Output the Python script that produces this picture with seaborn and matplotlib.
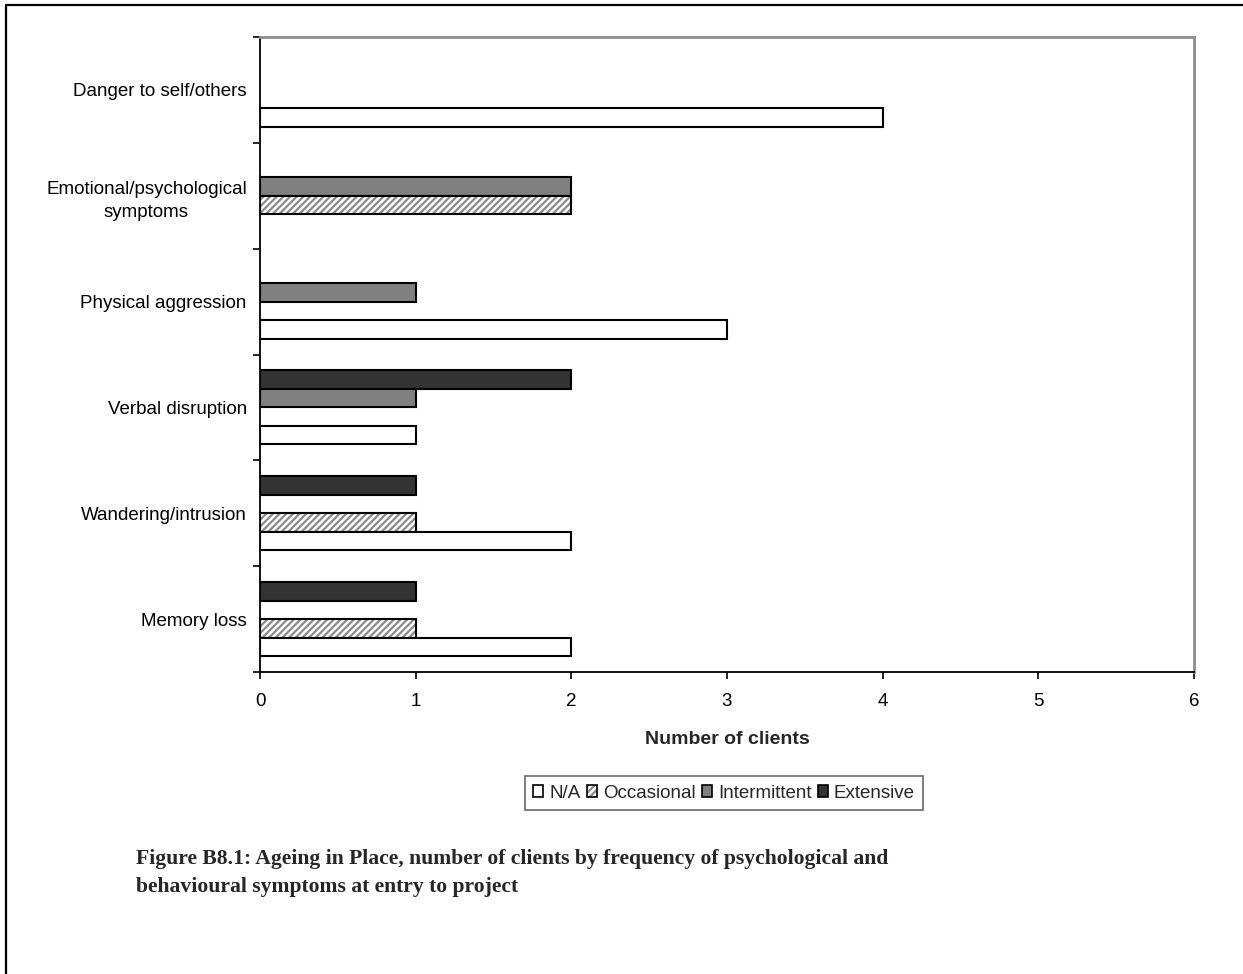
import matplotlib
matplotlib.use("Agg")
import matplotlib.pyplot as plt
from matplotlib.lines import Line2D
from matplotlib.patches import Patch
from matplotlib.colors import to_rgba
import seaborn as sns
import pandas as pd

# Symptom categories, listed top to bottom as they appear on the axis
categories = [
    "Danger to self/others",
    "Emotional/psychological\nsymptoms",
    "Physical aggression",
    "Verbal disruption",
    "Wandering/intrusion",
    "Memory loss",
]
levels = ["N/A", "Occasional", "Intermittent", "Extensive"]

# Number of clients per frequency level, one value per category
na_counts = [4, 0, 3, 1, 2, 2]
occasional_counts = [0, 2, 0, 0, 1, 1]
intermittent_counts = [0, 2, 1, 1, 0, 0]
extensive_counts = [0, 0, 0, 2, 1, 1]

x_ticks = [0, 1, 2, 3, 4, 5, 6]
x_label = "Number of clients"
caption = ("Figure B8.1: Ageing in Place, number of clients by frequency of psychological and\n"
           "behavioural symptoms at entry to project")

counts = {
    "N/A": na_counts,
    "Occasional": occasional_counts,
    "Intermittent": intermittent_counts,
    "Extensive": extensive_counts,
}
rows = []
for lvl in levels:
    for cat, v in zip(categories, counts[lvl]):
        if v > 0:
            rows.append({"symptom": cat, "frequency": lvl, "clients": v})
df = pd.DataFrame(rows)

OCC_FACE = "#fdfdfd"
colors = {"N/A": "#ffffff", "Occasional": OCC_FACE,
          "Intermittent": "#808080", "Extensive": "#333333"}

sns.set_style("white")
plt.rcParams["font.family"] = ["Liberation Sans", "DejaVu Sans"]
plt.rcParams["hatch.linewidth"] = 1.6

W, H = 1243, 974
fig = plt.figure(figsize=(W / 100, H / 100), dpi=100)
ax = fig.add_axes([260 / W, 1 - 672 / H, (1194 - 260) / W, (672 - 37) / H])

# hue order runs top to bottom inside each group, so N/A sits lowest
draw_order = ["Extensive", "Intermittent", "Occasional", "N/A"]
sns.barplot(data=df, y="symptom", x="clients", hue="frequency",
            order=categories, hue_order=draw_order, palette=colors,
            orient="h", width=0.7, saturation=1, errorbar=None,
            edgecolor="black", linewidth=1.5, legend=False, ax=ax)

hatch_grey = to_rgba("#8a8a8a")
for p in ax.patches:
    if to_rgba(p.get_facecolor()) == to_rgba(OCC_FACE):
        p.set_facecolor("white")
        p.set_hatch("/////")
        p._hatch_color = hatch_grey

ax.set_xlim(0, 6)
ax.set_ylim(len(categories) - 0.5, -0.5)
ax.set_xticks(x_ticks)
ax.set_xticklabels([str(t) for t in x_ticks])
ax.set_yticks(range(len(categories)))
ax.set_yticklabels(categories, multialignment="center", linespacing=1.5)
ax.set_yticks([i - 0.5 for i in range(len(categories) + 1)], minor=True)
ax.tick_params(axis="y", which="major", length=0, pad=9.5, labelsize=13.5, colors="black")
ax.tick_params(axis="y", which="minor", length=5, width=1.2, direction="out", left=True, color="black")
ax.tick_params(axis="x", which="major", length=5, width=1.2, direction="out", bottom=True,
               pad=10, labelsize=13.5, colors="black")
ax.set_ylabel("")
ax.set_xlabel(x_label, fontsize=14, fontweight="bold", labelpad=15)

for side in ("left", "bottom"):
    ax.spines[side].set_color("black")
    ax.spines[side].set_linewidth(1.3)
for side in ("top", "right"):
    ax.spines[side].set_color("#8c8c8c")
    ax.spines[side].set_linewidth(2)

handles = []
for lvl in levels:
    if lvl == "Occasional":
        h = Patch(facecolor="white", edgecolor="black", hatch="/////", linewidth=1.2)
    else:
        h = Patch(facecolor=colors[lvl], edgecolor="black", linewidth=1.2)
    handles.append(h)
leg = fig.legend(handles, levels, loc="center", bbox_to_anchor=(724 / W, 1 - 793 / H),
                 ncol=4, fontsize=13.5, frameon=True, fancybox=False,
                 handlelength=0.55, handleheight=0.55, handletextpad=0.3,
                 columnspacing=0.35, borderpad=0.45, edgecolor="#444444")
leg.get_frame().set_linewidth(1.2)
for h in leg.legend_handles:
    if h.get_hatch():
        h._hatch_color = hatch_grey

fig.text(136 / W, 1 - 849 / H, caption, fontsize=15.6, fontweight="bold",
         family=["Liberation Serif", "DejaVu Serif"], va="top", ha="left",
         linespacing=1.55)

# page frame along the top and left edges
fig.add_artist(Line2D([6 / W, 1], [1 - 5 / H, 1 - 5 / H], color="black", lw=1.6,
                      transform=fig.transFigure))
fig.add_artist(Line2D([6 / W, 6 / W], [1 - 5 / H, 0], color="black", lw=1.6,
                      transform=fig.transFigure))

fig.savefig("out.png", dpi=100, facecolor="white")
